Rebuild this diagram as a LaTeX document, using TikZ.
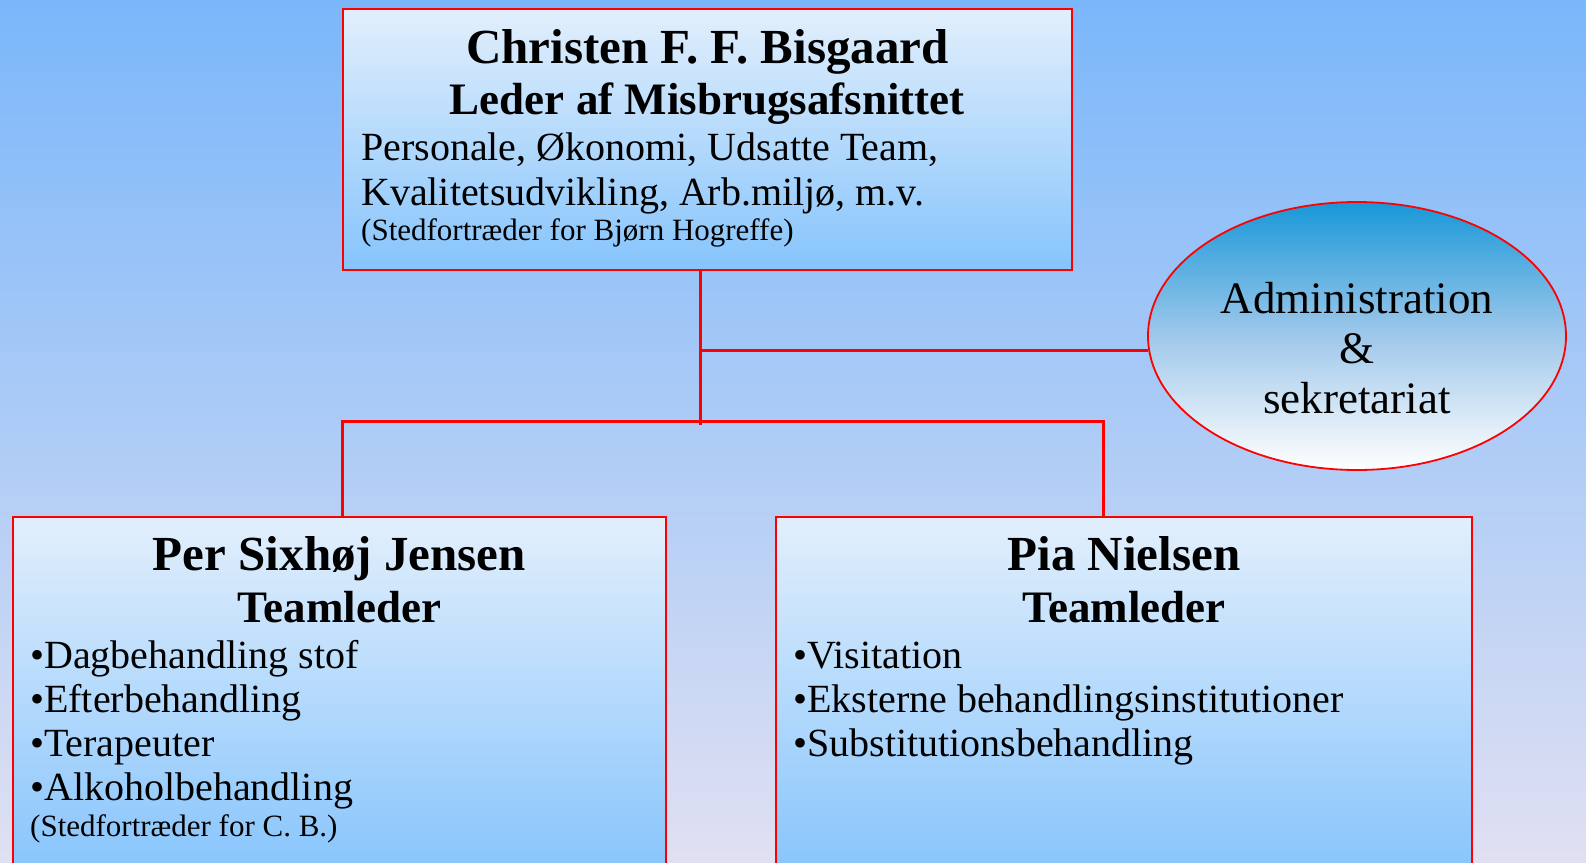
\documentclass[tikz,border=0pt]{standalone}
\usepackage{fontspec}
\setmainfont{Liberation Serif}
\usetikzlibrary{shapes.geometric, positioning, calc}
\definecolor{skytop}{RGB}{122,183,250}
\definecolor{skybot}{RGB}{224,224,242}
\definecolor{boxtop}{RGB}{226,239,252}
\definecolor{boxbot}{RGB}{134,196,252}
\definecolor{ovaltop}{RGB}{24,152,216}
\definecolor{ovalmid}{RGB}{160,200,234}
\tikzstyle{unit} = [rectangle, draw=red, line width=1.8pt, top color=boxtop, bottom color=boxbot, anchor=north west, inner sep=0pt]
\tikzstyle{oval} = [ellipse, draw=red, line width=1.8pt, top color=ovaltop, bottom color=white, middle color=ovalmid, inner sep=0pt]
\tikzstyle{ovaltxt} = [align=center, inner sep=0pt, font=\fontsize{45}{50}\selectfont]
\tikzstyle{link} = [red, line width=3pt]
\tikzstyle{persontxt} = [anchor=base, inner sep=0pt, font=\fontsize{49}{55}\selectfont\bfseries]
\tikzstyle{roletxt} = [anchor=base, inner sep=0pt, font=\fontsize{45}{50}\selectfont\bfseries]
\tikzstyle{dutytxt} = [anchor=base west, inner sep=0pt, font=\fontsize{40}{44}\selectfont]
\tikzstyle{subtxt} = [anchor=base west, inner sep=0pt, font=\fontsize{31}{36}\selectfont]

\begin{document}
\begin{tikzpicture}[x=1pt, y=-1pt]
    \useasboundingbox (0,0) rectangle (1586,862);
    \clip (0,0) rectangle (1586,862);
    \fill[top color=skytop, bottom color=skybot] (0,0) rectangle (1586,862);

    % boxes
    \node (cb) [unit, minimum width=729pt, minimum height=261pt] at (342,8) {};
    \node (per) [unit, minimum width=653pt, minimum height=360pt] at (12,516) {};
    \node (pia) [unit, minimum width=696pt, minimum height=360pt] at (775,516) {};
    \node (adm) [oval, minimum width=418pt, minimum height=268pt] at (1357,336) {};
    \node (admtxt) [ovaltxt] at ($(adm.center)+(0,12)$) {Administration\\\&\\sekretariat};

    % leader
    \node (cbname) [persontxt] at ($(cb.north)+(0,55)$) {Christen F. F. Bisgaard};
    \node (cbrole) [roletxt] at ($(cb.north)+(0,106)$) {Leder af Misbrugsafsnittet};
    \node (cbduty1) [dutytxt] at ($(cb.north west)+(19,152)$) {Personale, Økonomi, Udsatte Team,};
    \node (cbduty2) [dutytxt] at ($(cb.north west)+(19,197)$) {Kvalitetsudvikling, Arb.miljø, m.v.};
    \node (cbsub) [subtxt] at ($(cb.north west)+(19,232)$) {(Stedfortræder for Bjørn Hogreffe)};

    % team leaders
    \node (pername) [persontxt] at ($(per.north)+(0,54)$) {Per Sixhøj Jensen};
    \node (perrole) [roletxt] at ($(per.north)+(0,106)$) {Teamleder};
    \foreach \duty [count=\i] in {Dagbehandling stof, Efterbehandling, Terapeuter, Alkoholbehandling}
        \node (perduty\i) [dutytxt] at ($(per.north west)+(18,108+44*\i)$) {•\duty};
    \node (persub) [subtxt] at ($(per.north west)+(18,320)$) {(Stedfortræder for C. B.)};

    \node (pianame) [persontxt] at ($(pia.north)+(0,54)$) {Pia Nielsen};
    \node (piarole) [roletxt] at ($(pia.north)+(0,106)$) {Teamleder};
    \foreach \duty [count=\i] in {Visitation, Eksterne behandlingsinstitutioner, Substitutionsbehandling}
        \node (piaduty\i) [dutytxt] at ($(pia.north west)+(18,108+44*\i)$) {•\duty};

    % connectors
    \coordinate (trunk) at (700,425);
    \coordinate (perdrop) at (342,421);
    \coordinate (piadrop) at (1103,421);
    \draw [link] (cb.south -| trunk) -- (trunk);
    \draw [link] (adm.184) -- (adm.184 -| trunk);
    \draw [link] (perdrop |- per.north) -- (perdrop) -- (piadrop) -- (piadrop |- pia.north);
\end{tikzpicture}
\end{document}
